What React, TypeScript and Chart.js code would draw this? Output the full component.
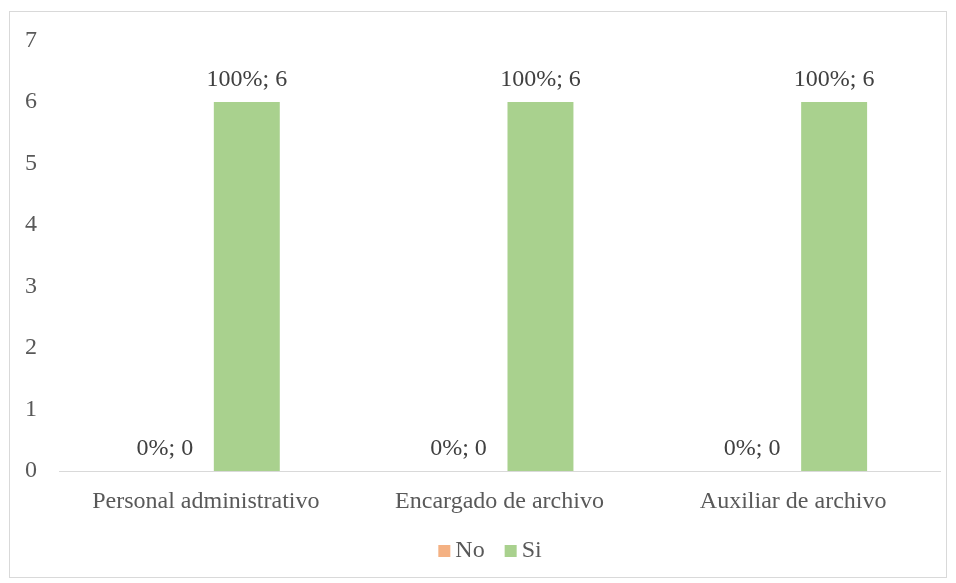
import React, { useEffect, useRef } from "react";
import { Chart, registerables } from "chart.js";

Chart.register(...registerables);

const FONT = "'Liberation Serif', 'Times New Roman', serif";

const categories = ["Personal administrativo", "Encargado de archivo", "Auxiliar de archivo"];
const seriesNames = ["No", "Si"];
const noValues = [0, 0, 0];
const siValues = [6, 6, 6];
const noPercents = [0, 0, 0];
const siPercents = [100, 100, 100];
const yMin = 0;
const yMax = 7;
const yStep = 1;

const NO_COLOR = "#F4B183";
const SI_COLOR = "#A9D18E";

const labelPlugin = {
  id: "barLabels",
  afterDatasetsDraw(chart: any) {
    const ctx = chart.ctx;
    ctx.save();
    ctx.font = `24px ${FONT}`;
    ctx.fillStyle = "#404040";
    ctx.textAlign = "center";
    ctx.textBaseline = "alphabetic";
    chart.data.datasets.forEach((ds: any, di: number) => {
      const meta = chart.getDatasetMeta(di);
      meta.data.forEach((el: any, i: number) => {
        ctx.fillText(`${ds.percents[i]}%; ${ds.data[i]}`, el.x, el.y - 16);
      });
    });
    ctx.restore();
  },
};

const legendPlugin = {
  id: "bottomLegend",
  afterDraw(chart: any) {
    const ctx = chart.ctx;
    ctx.save();
    ctx.font = `24px ${FONT}`;
    ctx.textBaseline = "alphabetic";
    ctx.textAlign = "left";
    const box = 12;
    const gap = 5;
    const spacing = 20;
    const items = chart.data.datasets.map((ds: any) => ({
      text: ds.label,
      color: ds.backgroundColor,
      w: ctx.measureText(ds.label).width,
    }));
    const total =
      items.reduce((a: number, it: any) => a + box + gap + it.w, 0) + spacing * (items.length - 1);
    const centerX = 480;
    const baseline = 545;
    let x = centerX - total / 2;
    items.forEach((it: any) => {
      ctx.fillStyle = it.color;
      ctx.fillRect(x, baseline - 12, box, box);
      x += box + gap;
      ctx.fillStyle = "#595959";
      ctx.fillText(it.text, x, baseline);
      x += it.w + spacing;
    });
    ctx.restore();
  },
};

export default function App() {
  const ref = useRef<HTMLCanvasElement>(null);

  useEffect(() => {
    if (!ref.current) return;
    const chart = new Chart(ref.current, {
      type: "bar",
      data: {
        labels: categories,
        datasets: [
          {
            label: seriesNames[0],
            data: noValues,
            percents: noPercents,
            backgroundColor: NO_COLOR,
            categoryPercentage: 0.558,
            barPercentage: 0.805,
          } as any,
          {
            label: seriesNames[1],
            data: siValues,
            percents: siPercents,
            backgroundColor: SI_COLOR,
            categoryPercentage: 0.558,
            barPercentage: 0.805,
          } as any,
        ],
      },
      options: {
        animation: false,
        responsive: false,
        maintainAspectRatio: false,
        layout: { padding: { top: 28.5, right: 6, left: 0, bottom: 46 } },
        plugins: {
          tooltip: { enabled: false },
          legend: { display: false },
        },
        scales: {
          x: {
            grid: { display: false, drawTicks: false },
            border: { display: true, color: "#D9D9D9", width: 1 },
            ticks: {
              font: { family: FONT, size: 24 },
              color: "#595959",
              padding: 16,
              maxRotation: 0,
              autoSkip: false,
            },
            afterFit: (s: any) => {
              s.height = 60;
              s.paddingLeft = 0;
              s.paddingRight = 0;
            },
          },
          y: {
            min: yMin,
            max: yMax,
            grid: { display: false, drawTicks: false },
            border: { display: false },
            ticks: {
              stepSize: yStep,
              font: { family: FONT, size: 24 },
              color: "#595959",
              padding: 22,
            },
            afterFit: (s: any) => {
              s.width = 49;
              s.paddingTop = 0;
              s.paddingBottom = 0;
            },
          },
        },
      },
      plugins: [labelPlugin, legendPlugin],
    });
    return () => chart.destroy();
  }, []);

  return (
    <div
      style={{
        marginLeft: 1,
        marginTop: 3,
        width: 936,
        height: 565,
        border: "1px solid #D9D9D9",
        background: "#fff",
      }}
    >
      <canvas ref={ref} width={936} height={565} style={{ display: "block" }} />
    </div>
  );
}
